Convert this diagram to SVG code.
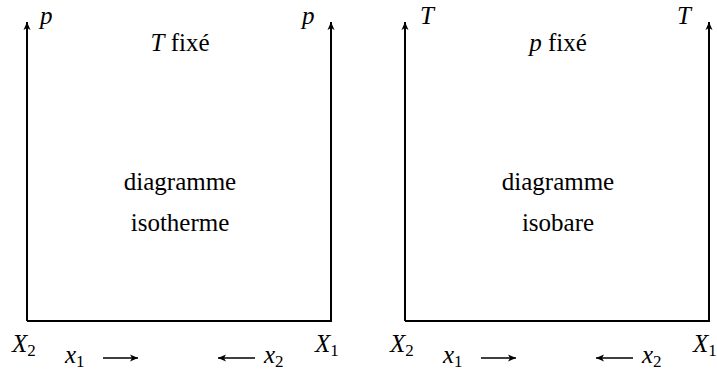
<svg xmlns="http://www.w3.org/2000/svg" width="717" height="370" viewBox="0 0 717 370">
<style>
.ax{fill:none;stroke:#000;stroke-width:2}
.ar{fill:none;stroke:#000;stroke-width:1.5}
.t{font-family:"Liberation Serif","Tinos","Nimbus Roman","DejaVu Serif",serif;font-size:25px;fill:#000}
.i{font-style:italic}
.m{text-anchor:middle}
.s{font-size:17px;font-style:normal}
</style>
<defs>
<marker id="ah" markerWidth="10" markerHeight="10" refX="9" refY="5" orient="auto" markerUnits="userSpaceOnUse">
<path d="M1,1.5 L9,5 L1,8.5 L3,5 Z" fill="#000"/>
</marker>
</defs>
<rect width="717" height="370" fill="#fff"/>
<g id="connectors">
<path class="ax" d="M27,321 L27,22" marker-end="url(#ah)"/>
<path class="ax" d="M27,321 L331,321 L331,22" marker-end="url(#ah)"/>
<path class="ar" d="M103,358 L138,358" marker-end="url(#ah)"/>
<path class="ar" d="M255,358 L218,358" marker-end="url(#ah)"/>
<path class="ax" d="M405,321 L405,22" marker-end="url(#ah)"/>
<path class="ax" d="M405,321 L709,321 L709,22" marker-end="url(#ah)"/>
<path class="ar" d="M481,358 L516,358" marker-end="url(#ah)"/>
<path class="ar" d="M633,358 L596,358" marker-end="url(#ah)"/>
</g>
<g id="panel-isotherme" class="t">
<text class="i" x="40" y="24">p</text>
<text class="i" x="302" y="24">p</text>
<text class="m" x="180" y="51"><tspan class="i">T</tspan> fixé</text>
<text class="m" x="180" y="190">diagramme</text>
<text class="m" x="180" y="231">isotherme</text>
<text class="i" x="12" y="352">X<tspan class="s" dy="4">2</tspan></text>
<text class="i" x="65" y="363">x<tspan class="s" dy="4">1</tspan></text>
<text class="i" x="264" y="363">x<tspan class="s" dy="4">2</tspan></text>
<text class="i" x="315" y="352">X<tspan class="s" dy="4">1</tspan></text>
</g>
<g id="panel-isobare" class="t">
<text class="i" x="420" y="24">T</text>
<text class="i" x="677" y="24">T</text>
<text class="m" x="558" y="51"><tspan class="i">p</tspan> fixé</text>
<text class="m" x="558" y="190">diagramme</text>
<text class="m" x="558" y="231">isobare</text>
<text class="i" x="390" y="352">X<tspan class="s" dy="4">2</tspan></text>
<text class="i" x="443" y="363">x<tspan class="s" dy="4">1</tspan></text>
<text class="i" x="642" y="363">x<tspan class="s" dy="4">2</tspan></text>
<text class="i" x="693" y="352">X<tspan class="s" dy="4">1</tspan></text>
</g>
</svg>
